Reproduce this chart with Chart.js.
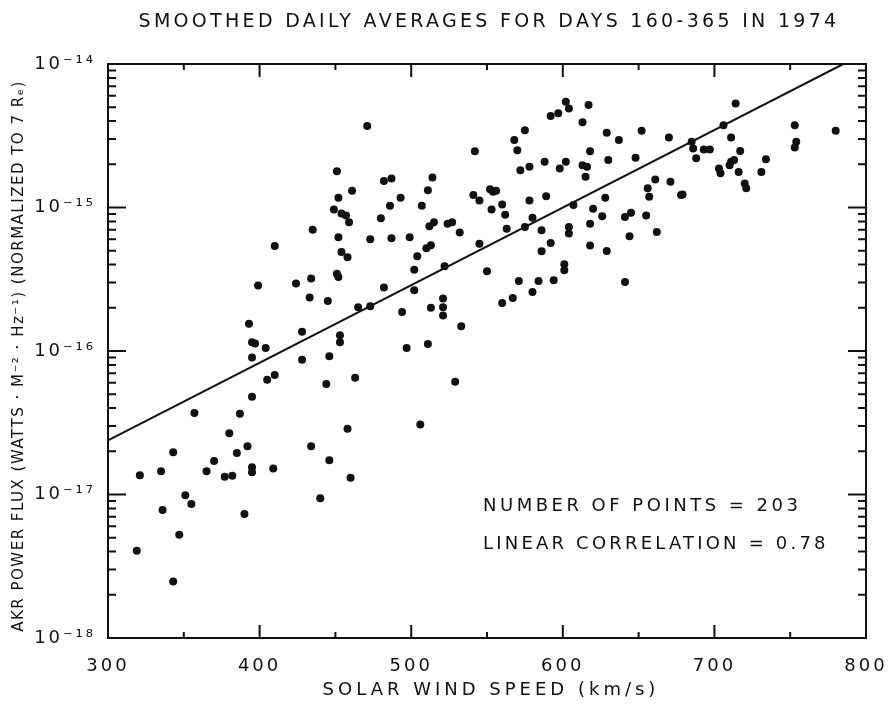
<!DOCTYPE html>
<html>
<head>
<meta charset="utf-8">
<script src="https://cdn.jsdelivr.net/npm/chart.js@4.4.0/dist/chart.umd.min.js"></script>
<style>
  body { margin: 0; background: #fff; }
  canvas { display: block; }
</style>
</head>
<body>
<canvas id="akrChart" width="890" height="704"></canvas>
<script>
// solar wind speed (km/s) and AKR power flux, same order
const speeds = [
  451, 461, 452, 449, 454, 457, 459, 435, 452, 410, 454, 458, 451, 452, 399, 424, 434, 433, 445, 465,
  393, 428, 453, 453, 395, 397, 404, 395, 428, 446, 405, 410, 463, 444, 395, 357, 387, 380, 458, 343,
  385, 392, 434, 370, 365, 335, 321, 377, 382, 395, 395, 409, 446, 460, 351, 355, 336, 390, 440, 347,
  319, 343, 471, 602, 604, 592, 597, 617, 613, 575, 568, 629, 570, 542, 618, 588, 598, 602, 572, 578,
  613, 616, 615, 630, 482, 487, 514, 511, 493, 486, 507, 541, 545, 552, 554, 556, 553, 560, 562, 578,
  589, 607, 620, 628, 626, 618, 480, 512, 515, 524, 527, 532, 563, 575, 580, 586, 604, 604, 473, 487,
  499, 510, 513, 504, 545, 592, 586, 618, 629, 502, 522, 550, 601, 601, 482, 502, 571, 584, 594, 580,
  560, 567, 473, 494, 513, 521, 521, 521, 533, 497, 511, 529, 506, 714, 753, 780, 754, 753, 637, 652,
  670, 706, 711, 685, 686, 688, 693, 697, 717, 648, 711, 713, 710, 703, 704, 716, 734, 731, 720, 721,
  661, 671, 656, 657, 678, 679, 641, 645, 655, 644, 662, 641
];
const fluxes = [
  1.79e-15, 1.31e-15, 1.17e-15, 9.7e-16, 9.1e-16, 8.8e-16, 7.9e-16, 7.0e-16, 6.2e-16, 5.4e-16,
  4.9e-16, 4.5e-16, 3.46e-16, 3.28e-16, 2.86e-16, 2.95e-16, 3.2e-16, 2.36e-16, 2.23e-16, 2.02e-16,
  1.55e-16, 1.36e-16, 1.29e-16, 1.15e-16, 1.15e-16, 1.13e-16, 1.05e-16, 9.0e-17, 8.7e-17, 9.2e-17,
  6.3e-17, 6.8e-17, 6.5e-17, 5.9e-17, 4.8e-17, 3.7e-17, 3.65e-17, 2.67e-17, 2.87e-17, 1.97e-17,
  1.95e-17, 2.17e-17, 2.17e-17, 1.71e-17, 1.45e-17, 1.45e-17, 1.36e-17, 1.33e-17, 1.35e-17, 1.55e-17,
  1.43e-17, 1.52e-17, 1.73e-17, 1.31e-17, 9.9e-18, 8.6e-18, 7.8e-18, 7.3e-18, 9.4e-18, 5.25e-18,
  4.06e-18, 2.48e-18, 3.7e-15, 5.46e-15, 4.9e-15, 4.34e-15, 4.53e-15, 5.18e-15, 3.92e-15, 3.46e-15,
  2.95e-15, 3.32e-15, 2.51e-15, 2.47e-15, 2.47e-15, 2.08e-15, 1.87e-15, 2.08e-15, 1.82e-15, 1.92e-15,
  1.97e-15, 1.92e-15, 1.64e-15, 2.14e-15, 1.53e-15, 1.59e-15, 1.62e-15, 1.32e-15, 1.17e-15, 1.03e-15,
  1.03e-15, 1.22e-15, 1.12e-15, 1.34e-15, 1.29e-15, 1.31e-15, 9.7e-16, 1.05e-15, 8.9e-16, 1.12e-15,
  1.2e-15, 1.04e-15, 9.8e-16, 1.17e-15, 8.7e-16, 7.7e-16, 8.4e-16, 7.4e-16, 7.9e-16, 7.7e-16,
  7.9e-16, 6.7e-16, 7.1e-16, 7.3e-16, 8.5e-16, 6.95e-16, 7.3e-16, 6.6e-16, 6.0e-16, 6.1e-16,
  6.2e-16, 5.2e-16, 5.46e-16, 4.57e-16, 5.6e-16, 5.66e-16, 4.95e-16, 5.43e-16, 4.98e-16, 3.69e-16,
  3.89e-16, 3.59e-16, 4.02e-16, 3.65e-16, 2.77e-16, 2.65e-16, 3.08e-16, 3.08e-16, 3.11e-16, 2.58e-16,
  2.16e-16, 2.34e-16, 2.05e-16, 1.87e-16, 2.0e-16, 2.32e-16, 2.02e-16, 1.77e-16, 1.49e-16, 1.05e-16,
  1.12e-16, 6.1e-17, 3.08e-17, 5.3e-15, 3.75e-15, 3.43e-15, 2.87e-15, 2.62e-15, 2.95e-15, 3.43e-15,
  3.08e-15, 3.75e-15, 3.08e-15, 2.87e-15, 2.58e-15, 2.2e-15, 2.54e-15, 2.54e-15, 2.48e-15, 2.22e-15,
  2.08e-15, 2.14e-15, 1.97e-15, 1.87e-15, 1.73e-15, 1.77e-15, 2.17e-15, 1.77e-15, 1.47e-15, 1.36e-15,
  1.57e-15, 1.51e-15, 1.36e-15, 1.19e-15, 1.22e-15, 1.23e-15, 8.6e-16, 9.2e-16, 8.8e-16, 6.3e-16,
  6.76e-16, 3.03e-16
];

// least squares line as drawn (ends where it leaves the top of the frame)
const fitSpeeds = [300, 785];
const fitFluxes = [2.38e-17, 1.0e-14];

// axis ticks
const xTickMarks = [300, 350, 400, 450, 500, 550, 600, 650, 700, 750, 800];
const yDecades = [-18, -17, -16, -15, -14];
const yMinorSteps = [1, 2, 3, 4, 5, 6, 7, 8, 9];

const titleText = 'SMOOTHED DAILY AVERAGES FOR DAYS 160-365 IN 1974';
const xTitle = 'SOLAR WIND SPEED (km/s)';
const yTitle = 'AKR POWER FLUX (WATTS \u00b7 M\u207b\u00b2 \u00b7 Hz\u207b\u00b9) (NORMALIZED TO 7 R\u2091)';
const notes = ['NUMBER OF POINTS = 203', 'LINEAR CORRELATION = 0.78'];

const FONT = '"DejaVu Sans", "Liberation Sans", sans-serif';
const INK = '#111';

const yTickValues = [];
yDecades.forEach(e => {
  if (e === yDecades[yDecades.length - 1]) { yTickValues.push(Math.pow(10, e)); return; }
  yMinorSteps.forEach(m => yTickValues.push(m * Math.pow(10, e)));
});

const SUP = {'-': '\u207b', '0': '\u2070', '1': '\u00b9', '2': '\u00b2', '3': '\u00b3', '4': '\u2074',
  '5': '\u2075', '6': '\u2076', '7': '\u2077', '8': '\u2078', '9': '\u2079'};

function isDecade(v) {
  const l = Math.log10(v);
  return Math.abs(l - Math.round(l)) < 1e-6;
}

function drawText(ctx, text, x, y, size, spacing, align, rotate) {
  ctx.save();
  ctx.translate(x, y);
  if (rotate) ctx.rotate(rotate);
  ctx.font = size + 'px ' + FONT;
  ctx.letterSpacing = spacing + 'px';
  ctx.fillStyle = INK;
  ctx.textAlign = align;
  ctx.textBaseline = 'middle';
  ctx.fillText(text, 0, 0);
  ctx.restore();
}

const frameAndLabels = {
  id: 'frameAndLabels',
  beforeLayout(chart) { chart.ctx.letterSpacing = '3px'; },
  beforeDraw(chart) { chart.ctx.letterSpacing = '3px'; },
  afterDatasetsDraw(chart) {
    const {ctx, chartArea: a, scales: {x, y}} = chart;
    ctx.save();
    ctx.strokeStyle = INK;
    ctx.lineWidth = 2;
    ctx.strokeRect(a.left, a.top, a.right - a.left, a.bottom - a.top);
    ctx.beginPath();
    xTickMarks.forEach(v => {
      const px = x.getPixelForValue(v);
      const len = v % 100 === 0 ? 13 : 6;
      ctx.moveTo(px, a.bottom); ctx.lineTo(px, a.bottom - len);
      ctx.moveTo(px, a.top); ctx.lineTo(px, a.top + len);
    });
    yTickValues.forEach(v => {
      const py = y.getPixelForValue(v);
      const len = isDecade(v) ? 18 : 8;
      ctx.moveTo(a.left, py); ctx.lineTo(a.left + len, py);
      ctx.moveTo(a.right, py); ctx.lineTo(a.right - len, py);
    });
    ctx.stroke();
    ctx.restore();

    drawText(ctx, titleText, 489, 22, 19, 3.3, 'center');
    drawText(ctx, xTitle, 491, 690, 18, 4, 'center');
    drawText(ctx, yTitle, 19, 356, 15, 1.5, 'center', -Math.PI / 2);
    drawText(ctx, notes[0], 483, 506, 18, 3.5, 'left');
    drawText(ctx, notes[1], 483, 544, 18, 3.2, 'left');
  }
};

const ctx = document.getElementById('akrChart').getContext('2d');
new Chart(ctx, {
  type: 'scatter',
  data: {
    datasets: [{
      label: 'Daily averages',
      data: speeds.map((s, i) => ({x: s, y: fluxes[i]})),
      backgroundColor: '#111',
      borderWidth: 0,
      pointRadius: 4
    }, {
      type: 'line',
      label: 'Fit',
      data: fitSpeeds.map((s, i) => ({x: s, y: fitFluxes[i]})),
      borderColor: '#111',
      borderWidth: 2,
      pointRadius: 0,
      fill: false
    }]
  },
  options: {
    responsive: false,
    animation: false,
    devicePixelRatio: 1,
    layout: {padding: {left: 8, right: 24, top: 64, bottom: 6}},
    plugins: {
      legend: {display: false},
      tooltip: {enabled: false}
    },
    scales: {
      x: {
        type: 'linear',
        min: 300,
        max: 800,
        grid: {display: false},
        border: {display: false},
        ticks: {stepSize: 100, padding: 10, color: INK, font: {family: FONT, size: 18}},
        afterFit: s => { s.height = 60; s.paddingLeft = 0; s.paddingRight = 0; }
      },
      y: {
        type: 'logarithmic',
        min: 1e-18,
        max: 1e-14,
        grid: {display: false},
        border: {display: false},
        afterBuildTicks: s => { s.ticks = yTickValues.map(v => ({value: v})); },
        ticks: {
          autoSkip: false,
          padding: 4,
          color: INK,
          font: {family: FONT, size: 18},
          callback: v => {
            if (!isDecade(v)) return '';
            const e = String(Math.round(Math.log10(v)));
            return '10' + e.split('').map(c => SUP[c]).join('');
          }
        },
        afterFit: s => { s.width = 100; s.paddingTop = 0; s.paddingBottom = 0; }
      }
    }
  },
  plugins: [frameAndLabels]
});
</script>
</body>
</html>
